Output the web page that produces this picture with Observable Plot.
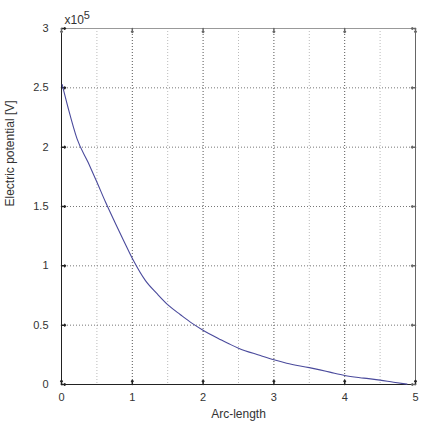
<!DOCTYPE html>
<html>
<head>
<meta charset="utf-8">
<script src="https://cdn.jsdelivr.net/npm/d3@7"></script>
<script src="https://cdn.jsdelivr.net/npm/@observablehq/plot@0.6"></script>
<style>
  html, body { margin: 0; padding: 0; background: #fff; }
</style>
</head>
<body>
<div id="chart"></div>
<script>
// Arc-length (s) and electric potential (x10^5 V)
const arcLength = [0.01, 0.094, 0.22, 0.377, 0.504, 0.62, 0.752, 0.88, 1.02, 1.186, 1.35, 1.516, 1.68, 1.846, 1.987, 2.25, 2.39, 2.5, 2.81, 3.0, 3.18, 3.5, 3.65, 3.79, 4.0, 4.27, 4.5, 4.69, 4.88];
const potential = [2.527, 2.33, 2.07, 1.87, 1.70, 1.54, 1.37, 1.21, 1.04, 0.875, 0.765, 0.664, 0.588, 0.515, 0.462, 0.378, 0.336, 0.306, 0.244, 0.208, 0.179, 0.142, 0.123, 0.104, 0.076, 0.054, 0.037, 0.019, 0.003];

const xTicks = [0, 1, 2, 3, 4, 5];
const xTickLabels = ["0", "1", "2", "3", "4", "5"];
const yTicks = [0, 0.5, 1, 1.5, 2, 2.5, 3];
const yTickLabels = ["0", "0.5", "1", "1.5", "2", "2.5", "3"];
const xMajorGrid = [1, 2, 3, 4];
const xMinorGrid = [0.5, 1.5, 2.5, 3.5, 4.5];
const yGrid = [0.5, 1, 1.5, 2, 2.5];

const xTitle = "Arc-length";
const yTitle = "Electric potential [V]";
const scaleBase = "x10";
const scaleExp = "5";

const data = arcLength.map((s, i) => ({s, v: potential[i]}));

const chart = Plot.plot({
  width: 426,
  height: 424,
  marginLeft: 61,
  marginRight: 11,
  marginTop: 28,
  marginBottom: 40,
  style: {fontFamily: "Liberation Sans, Arial, sans-serif", fontSize: "11px", color: "#333", background: "#fff"},
  x: {domain: [0, 5]},
  y: {domain: [0, 3]},
  marks: [
    Plot.ruleX(xMinorGrid, {x: d => d, stroke: "#bbb", strokeDasharray: "1,2"}),
    Plot.ruleX(xMajorGrid, {x: d => d, stroke: "#555", strokeDasharray: "1,2"}),
    Plot.ruleY(yGrid, {y: d => d, stroke: "#777", strokeDasharray: "1,2"}),
    Plot.ruleY([3], {stroke: "#999"}),
    Plot.ruleX([5], {stroke: "#666"}),
    Plot.ruleX([0], {stroke: "#222"}),
    Plot.ruleY([0], {stroke: "#222"}),
    Plot.vector(xTicks, {x: d => d, y: 0, length: 4, rotate: 0, anchor: "start", stroke: "#222"}),
    Plot.vector(yTicks, {x: 0, y: d => d, length: 4, rotate: 90, anchor: "start", stroke: "#222"}),
    Plot.vector(xTicks, {x: d => d, y: 3, length: 4, rotate: 180, anchor: "start", stroke: "#666"}),
    Plot.vector(yTicks, {x: 5, y: d => d, length: 4, rotate: 270, anchor: "start", stroke: "#666"}),
    Plot.axisX(xTicks, {tickSize: 0, tickPadding: 9, tickFormat: (d, i) => xTickLabels[i], label: null, fill: "#333"}),
    Plot.axisY(yTicks, {tickSize: 0, tickPadding: 13, tickFormat: (d, i) => yTickLabels[i], label: null, fill: "#333"}),
    Plot.line(data, {x: "s", y: "v", stroke: "#4a4a9c", strokeWidth: 1.1, curve: "monotone-x"}),
    Plot.text([scaleBase], {frameAnchor: "top-left", dx: 3, dy: -13, textAnchor: "start", fontSize: 12, fill: "#333", className: "scale-note"}),
    Plot.text([xTitle], {frameAnchor: "bottom", dy: 33, fontSize: 12, fill: "#333"}),
    Plot.text([yTitle], {frameAnchor: "left", dx: -51, rotate: -90, fontSize: 12, fill: "#333"})
  ]
});
// add the exponent as a raised tspan
d3.select(chart).selectAll(".scale-note text").append("tspan")
  .attr("dy", "-0.45em").attr("font-size", 11).text(scaleExp);
document.getElementById("chart").appendChild(chart);
</script>
</body>
</html>
